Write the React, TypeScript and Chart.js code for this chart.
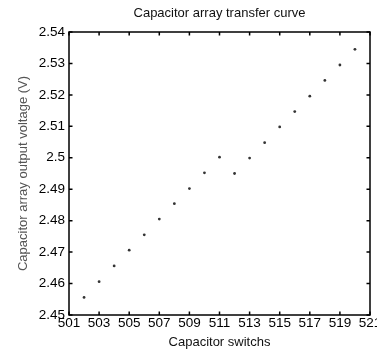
import React, { useEffect, useRef } from "react";
import { Chart, registerables } from "chart.js";

Chart.register(...registerables);

const switches = [502, 503, 504, 505, 506, 507, 508, 509, 510, 511, 512, 513, 514, 515, 516, 517, 518, 519, 520];
const voltages = [2.4556, 2.4606, 2.4656, 2.4706, 2.4755, 2.4805, 2.4854, 2.4902, 2.4952, 2.5002, 2.495, 2.4999, 2.5048, 2.5098, 2.5147, 2.5196, 2.5246, 2.5295, 2.5345];
const xTicks = [501, 503, 505, 507, 509, 511, 513, 515, 517, 519, 521];
const yTicks = [2.45, 2.46, 2.47, 2.48, 2.49, 2.5, 2.51, 2.52, 2.53, 2.54];

const FONT = "'Liberation Sans', Arial, Helvetica, sans-serif";

const boxPlugin = {
  id: "matlabBox",
  afterDraw(chart: any) {
    const { ctx, chartArea: a, scales } = chart;
    ctx.save();
    ctx.strokeStyle = "#000";
    ctx.lineWidth = 1.5;
    ctx.strokeRect(a.left, a.top, a.right - a.left, a.bottom - a.top);
    const tl = 3.5;
    ctx.beginPath();
    scales.x.ticks.forEach((t: any) => {
      const px = scales.x.getPixelForValue(t.value);
      ctx.moveTo(px, a.bottom);
      ctx.lineTo(px, a.bottom - tl);
      ctx.moveTo(px, a.top);
      ctx.lineTo(px, a.top + tl);
    });
    scales.y.ticks.forEach((t: any) => {
      const py = scales.y.getPixelForValue(t.value);
      ctx.moveTo(a.left, py);
      ctx.lineTo(a.left + tl, py);
      ctx.moveTo(a.right, py);
      ctx.lineTo(a.right - tl, py);
    });
    ctx.stroke();
    ctx.restore();
  },
};

export default function App() {
  const ref = useRef<HTMLCanvasElement>(null);
  useEffect(() => {
    if (!ref.current) return;
    const chart = new Chart(ref.current, {
      type: "scatter",
      data: {
        datasets: [
          {
            data: switches.map((x, i) => ({ x, y: voltages[i] })),
            backgroundColor: "#333",
            borderColor: "#333",
            pointRadius: 1.4,
            pointBorderWidth: 0,
          },
        ],
      },
      options: {
        responsive: false,
        animation: false,
        layout: { padding: { top: 0, right: 7, bottom: 0, left: 0 } },
        plugins: {
          legend: { display: false },
          tooltip: { enabled: false },
          title: {
            display: true,
            fullSize: false,
            text: "Capacitor array transfer curve",
            color: "#111",
            font: { family: FONT, size: 13, weight: "normal" },
            padding: { top: 6, bottom: 10.4 },
          },
        },
        scales: {
          x: {
            type: "linear",
            min: 501,
            max: 521,
            grid: { display: false, drawTicks: false },
            border: { display: false },
            afterBuildTicks: (s: any) => {
              s.ticks = xTicks.map((v) => ({ value: v }));
            },
            afterFit: (s: any) => {
              s.height = 37;
              s.paddingLeft = 0;
              s.paddingRight = 0;
            },
            ticks: {
              color: "#000",
              padding: 0,
              maxRotation: 0,
              autoSkip: false,
              font: { family: FONT, size: 13.5 },
              callback: (v: any) => String(v),
            },
            title: {
              display: true,
              text: "Capacitor switchs",
              color: "#111",
              font: { family: FONT, size: 13 },
              padding: { top: 0, bottom: 2 },
            },
          },
          y: {
            type: "linear",
            min: 2.45,
            max: 2.54,
            grid: { display: false, drawTicks: false },
            border: { display: false },
            afterBuildTicks: (s: any) => {
              s.ticks = yTicks.map((v) => ({ value: v }));
            },
            afterFit: (s: any) => {
              s.width = 69;
            },
            ticks: {
              color: "#000",
              padding: 4,
              autoSkip: false,
              font: { family: FONT, size: 13.5 },
              callback: (v: any) => String(+Number(v).toFixed(2)),
            },
            title: {
              display: true,
              text: "Capacitor array output voltage (V)",
              color: "#555",
              font: { family: FONT, size: 13 },
              padding: { top: 16, bottom: 0 },
            },
          },
        },
      },
      plugins: [boxPlugin],
    });
    return () => chart.destroy();
  }, []);
  return (
    <div style={{ position: "absolute", left: 0, top: 0, width: 377, height: 352, background: "#fff" }}>
      <canvas ref={ref} width={377} height={352} />
    </div>
  );
}
